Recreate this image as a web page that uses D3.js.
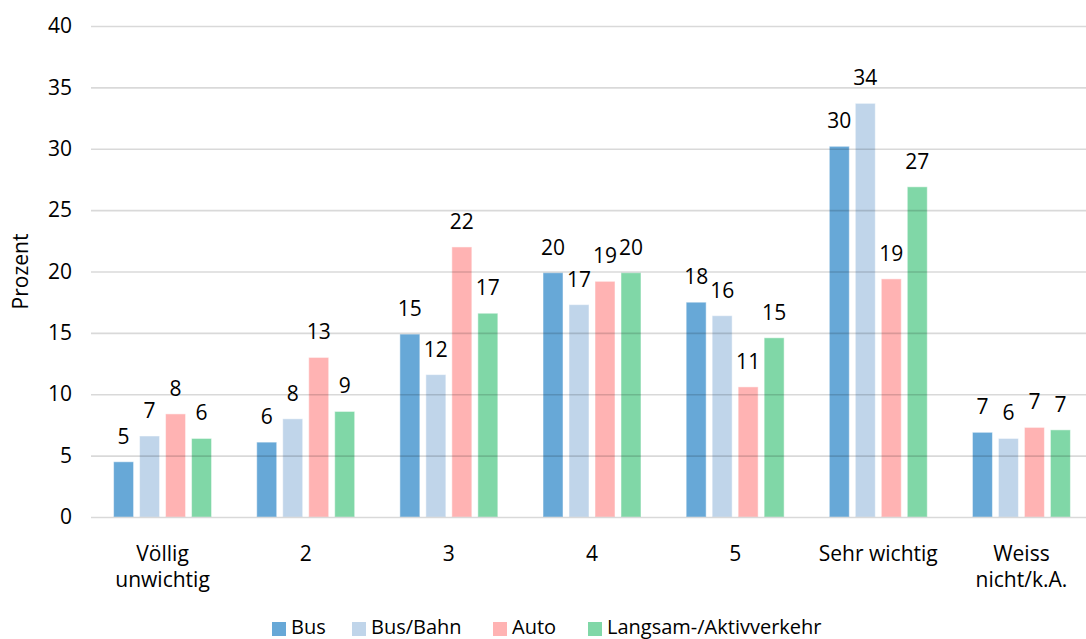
<!DOCTYPE html>
<html>
<head>
<meta charset="utf-8">
<script src="https://cdn.jsdelivr.net/npm/d3@7"></script>
<style>
  html, body { margin: 0; padding: 0; background: #fff; }
  svg { display: block; }
  text { font-family: "Open Sans", sans-serif; fill: #000; }
</style>
</head>
<body>
<svg id="chart" width="1086" height="639"></svg>
<script>
const categories = ["Völlig unwichtig", "2", "3", "4", "5", "Sehr wichtig", "Weiss nicht/k.A."];
const categoryLines = [["Völlig", "unwichtig"], ["2"], ["3"], ["4"], ["5"], ["Sehr wichtig"], ["Weiss", "nicht/k.A."]];
const seriesNames = ["Bus", "Bus/Bahn", "Auto", "Langsam-/Aktivverkehr"];
const busValues      = [4.5, 6.1, 14.9, 19.9, 17.5, 30.2, 6.9];
const busBahnValues  = [6.6, 8.0, 11.6, 17.3, 16.4, 33.7, 6.4];
const autoValues     = [8.4, 13.0, 22.0, 19.2, 10.6, 19.4, 7.3];
const langsamValues  = [6.4, 8.6, 16.6, 19.9, 14.6, 26.9, 7.1];
const yTicks = [0, 5, 10, 15, 20, 25, 30, 35, 40];
const yLabel = "Prozent";
const colors = ["#67a8d7", "#c0d5ea", "#ffb3b3", "#80d7a7"];

const seriesValues = [busValues, busBahnValues, autoValues, langsamValues];

const svg = d3.select("#chart");
const plotLeft = 91, plotRight = 1093, plotTop = 26, plotBottom = 517;

const x0 = d3.scaleBand().domain(categories).range([plotLeft, plotRight]).paddingInner(0).paddingOuter(0);
const x1 = d3.scaleBand().domain(seriesNames).range([0, x0.bandwidth()])
  .paddingInner(0.2308).paddingOuter(0.869);
const y = d3.scaleLinear().domain([0, 40]).range([plotBottom, plotTop]);

// bars
const groups = svg.append("g").selectAll("g")
  .data(categories).join("g")
  .attr("transform", d => `translate(${x0(d)},0)`);

groups.each(function(cat, ci) {
  const g = d3.select(this);
  seriesNames.forEach((s, si) => {
    const v = seriesValues[si][ci];
    g.append("rect")
      .attr("x", x1(s))
      .attr("y", y(v))
      .attr("width", x1.bandwidth())
      .attr("height", y(0) - y(v))
      .attr("fill", colors[si])
      .attr("stroke", "rgba(255,255,255,0.5)")
      .attr("stroke-width", 1);
    g.append("text")
      .attr("x", x1(s) + x1.bandwidth() / 2)
      .attr("y", y(v) - 18)
      .attr("text-anchor", "middle")
      .attr("font-size", 21)
      .text(d3.format(".0f")(v));
  });
});

// gridlines (drawn over bars, semi-transparent)
const yAxis = d3.axisLeft(y).tickValues(yTicks).tickSize(-(plotRight - plotLeft)).tickPadding(19);
const ya = svg.append("g").attr("transform", `translate(${plotLeft},0)`).call(yAxis);
ya.select(".domain").remove();
ya.selectAll(".tick line").attr("stroke", "rgba(0,0,0,0.15)").attr("stroke-width", 1.6);
ya.selectAll(".tick text").attr("font-size", 21).attr("font-family", "Open Sans, sans-serif").attr("fill", "#000");

// x axis labels
const xa = svg.append("g");
categories.forEach((c, i) => {
  const cx = x0(c) + x0.bandwidth() / 2;
  const t = xa.append("text").attr("text-anchor", "middle").attr("font-size", 21);
  categoryLines[i].forEach((line, li) => {
    t.append("tspan").attr("x", cx).attr("y", 561 + li * 26).text(line);
  });
});

// y label
svg.append("text")
  .attr("transform", `translate(28,${(plotTop + plotBottom) / 2}) rotate(-90)`)
  .attr("text-anchor", "middle")
  .attr("font-size", 21)
  .text(yLabel);

// legend
const legendX = [272, 352, 493, 588];
const legend = svg.append("g");
seriesNames.forEach((s, i) => {
  legend.append("rect").attr("x", legendX[i]).attr("y", 622).attr("width", 14).attr("height", 14).attr("fill", colors[i]);
  legend.append("text").attr("x", legendX[i] + 19).attr("y", 634).attr("font-size", 20).text(s);
});
</script>
</body>
</html>
